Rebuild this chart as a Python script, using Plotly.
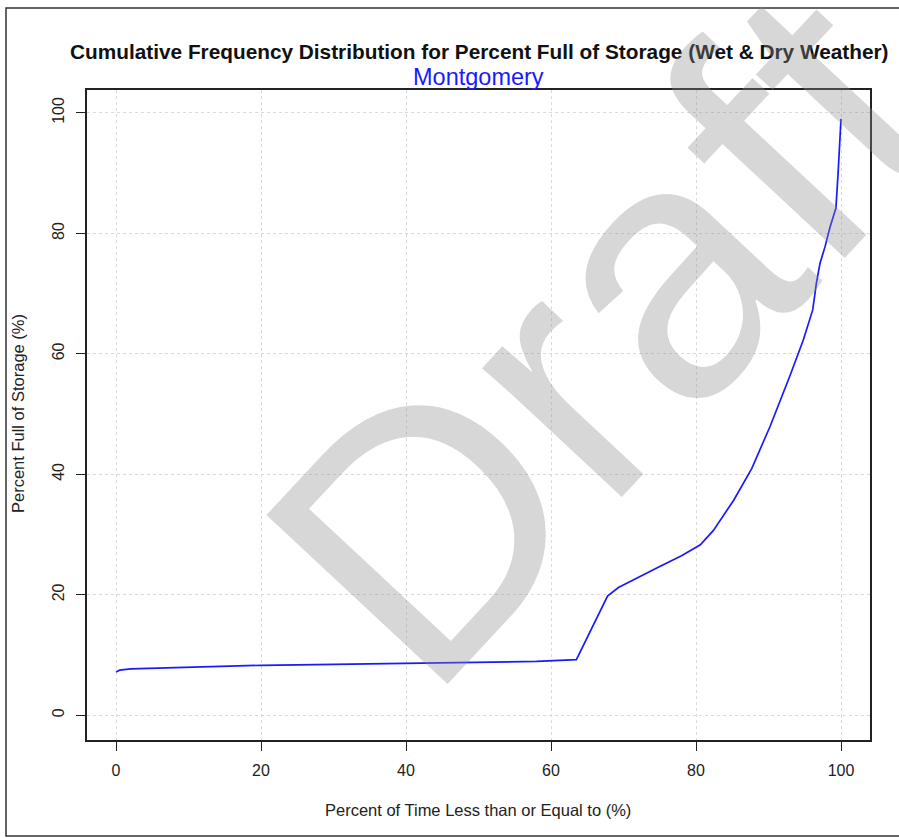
import plotly.graph_objects as go

# Cumulative frequency curve: percent of time (x) vs percent full of storage (y)
pct_time = [0, 0.5, 2, 5, 10, 15, 20, 30, 40, 50, 58, 63.5, 65.5, 67.8, 69.3,
            72, 75, 78, 80.6, 82.4, 85.2, 87.7, 90.2, 93.0, 94.8, 96.1, 96.6,
            97.1, 97.8, 98.5, 99.0, 99.3, 99.6, 99.8, 100]
pct_full = [7.2, 7.5, 7.7, 7.8, 8.0, 8.15, 8.3, 8.45, 8.6, 8.75, 8.95, 9.25,
            14.2, 19.8, 21.2, 22.8, 24.7, 26.5, 28.3, 30.7, 35.7, 41.0, 47.9,
            56.5, 62.3, 67.3, 71.7, 75.0, 77.8, 81.1, 83.0, 84.2, 90.0, 95.0, 99.0]

tick_vals = [0, 20, 40, 60, 80, 100]
tick_text = ["0", "20", "40", "60", "80", "100"]

title_text = "Cumulative Frequency Distribution for Percent Full of Storage (Wet & Dry Weather)"
subtitle_text = "Montgomery"
x_title = "Percent of Time Less than or Equal to (%)"
y_title = "Percent Full of Storage (%)"
watermark = "Draft"

W, H = 899, 838
L, R, T, B = 87, 870, 90, 740  # plot box in pixels
pw, ph = R - L, B - T


def px(x):
    return (x - L) / pw


def py(y):
    return (B - y) / ph


FONT = "Liberation Sans, Arial, Helvetica, sans-serif"

fig = go.Figure()
fig.add_trace(go.Scatter(
    x=pct_time, y=pct_full, mode="lines",
    line=dict(color="#1a1aff", width=1.7),
    showlegend=False, hoverinfo="skip",
))

axis_common = dict(
    showline=True, linecolor="#222222", linewidth=1.5, mirror=True,
    ticks="outside", ticklen=9, tickwidth=1.2, tickcolor="#222222",
    showgrid=True, gridcolor="#dadada", griddash="dot", gridwidth=1,
    zeroline=False, tickvals=tick_vals, ticktext=tick_text,
    tickfont=dict(family=FONT, size=16, color="#222222"),
)

fig.update_layout(
    width=W, height=H,
    margin=dict(l=L, r=W - R, t=T, b=H - B, pad=0),
    paper_bgcolor="white", plot_bgcolor="white",
    xaxis=dict(range=[-4, 104], ticklabelstandoff=6, **axis_common),
    yaxis=dict(range=[-4.1, 103.8], tickangle=-90, ticklabelstandoff=6, **axis_common),
    font=dict(family=FONT),
    shapes=[dict(
        type="rect", xref="paper", yref="paper",
        x0=px(6), x1=px(910), y0=py(836), y1=py(8),
        line=dict(color="#333333", width=1.5), fillcolor="rgba(0,0,0,0)",
        layer="below",
    )],
    annotations=[
        dict(text="<b>" + title_text.replace("&", "&amp;") + "</b>",
             xref="paper", yref="paper", x=px(479), y=py(52),
             showarrow=False, xanchor="center", yanchor="middle",
             font=dict(family=FONT, size=20.8, color="#111111")),
        dict(text=subtitle_text, xref="paper", yref="paper", x=px(478), y=py(77),
             showarrow=False, xanchor="center", yanchor="middle",
             font=dict(family=FONT, size=23.5, color="#1a1aff")),
        dict(text=x_title, xref="paper", yref="paper", x=px(478), y=py(810),
             showarrow=False, xanchor="center", yanchor="middle",
             font=dict(family=FONT, size=16.5, color="#222222")),
        dict(text=y_title, xref="paper", yref="paper", x=px(18), y=py(414),
             showarrow=False, xanchor="center", yanchor="middle", textangle=-90,
             font=dict(family=FONT, size=16.5, color="#222222")),
        dict(text=watermark, xref="paper", yref="paper", x=px(602), y=py(335),
             showarrow=False, xanchor="center", yanchor="middle", textangle=-47,
             font=dict(family=FONT, size=360, color="rgba(140,140,140,0.35)")),
    ],
)

fig.write_html("out.html")
